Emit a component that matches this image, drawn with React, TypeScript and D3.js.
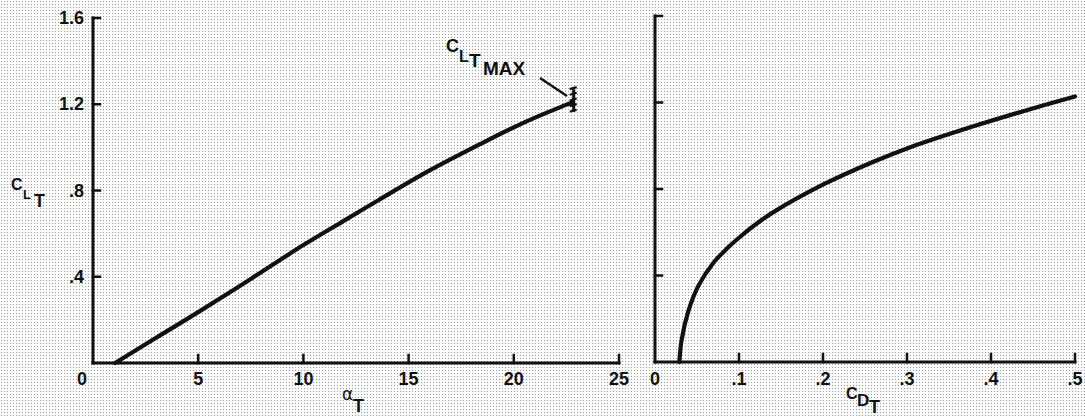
import React from "react";
import * as d3 from "d3";

// ---- data ----
const liftAlpha = [1.05, 3, 5, 7.5, 10, 12, 13.6, 16, 18.4, 20, 21.2, 22.5, 22.8];
const liftCL = [0, 0.117, 0.236, 0.39, 0.547, 0.664, 0.757, 0.893, 1.015, 1.093, 1.146, 1.198, 1.21];

const polarCD = [0.029, 0.0317, 0.0397, 0.0516, 0.0694, 0.085, 0.101, 0.12, 0.141, 0.201, 0.26, 0.3016, 0.379, 0.4385, 0.5];
const polarCL = [0, 0.102, 0.235, 0.352, 0.458, 0.522, 0.578, 0.637, 0.693, 0.822, 0.926, 0.99, 1.09, 1.16, 1.228];

const alphaTicks = [0, 5, 10, 15, 20, 25];
const alphaTickLabels = ["0", "5", "10", "15", "20", "25"];
const cdTicks = [0, 0.1, 0.2, 0.3, 0.4, 0.5];
const cdTickLabels = ["0", ".1", ".2", ".3", ".4", ".5"];
const clTicks = [0, 0.4, 0.8, 1.2, 1.6];
const clTickLabels = ["0", ".4", ".8", "1.2", "1.6"];

const clMax = { alpha: 22.8, low: 1.165, high: 1.27 };

const W = 1085;
const H = 416;
const INK = "#111";
const FONT = "'Liberation Sans', Arial, Helvetica, sans-serif";

export default function App() {
  const xL = d3.scaleLinear().domain([0, 25]).range([93, 619]);
  const yL = d3.scaleLinear().domain([0, 1.6]).range([363, 18]);
  const xR = d3.scaleLinear().domain([0, 0.5]).range([655, 1075]);
  const yR = d3.scaleLinear().domain([0, 1.6]).range([362, 16]);

  const liftPts: [number, number][] = liftAlpha.map((a, i) => [a, liftCL[i]]);
  const polarPts: [number, number][] = polarCD.map((c, i) => [c, polarCL[i]]);

  const lineL = d3
    .line<[number, number]>()
    .x((d) => xL(d[0]))
    .y((d) => yL(d[1]))
    .curve(d3.curveCatmullRom.alpha(0.5));
  const lineR = d3
    .line<[number, number]>()
    .x((d) => xR(d[0]))
    .y((d) => yR(d[1]))
    .curve(d3.curveCatmullRom.alpha(0.5));

  const tickLen = 7;
  const axisW = 3;

  const hatchX = xL(clMax.alpha);
  const hatchYs = d3.range(5).map((i) => yL(clMax.low) - (i * (yL(clMax.low) - yL(clMax.high))) / 4);

  return (
    <svg
      width={W}
      height={H}
      style={{ position: "absolute", left: 0, top: 0, display: "block" }}
      fontFamily={FONT}
      fontWeight="bold"
    >
      <defs>
        <pattern id="dots" width={3} height={3} patternUnits="userSpaceOnUse">
          <rect width={3} height={3} fill="#fdfdfd" />
          <rect x={1} y={1} width={1} height={1} fill="#9a9a9a" />
        </pattern>
      </defs>
      <rect width={W} height={H} fill="url(#dots)" />

      {/* ---- left panel ---- */}
      <g stroke={INK} strokeWidth={axisW} fill="none" strokeLinecap="square">
        <line x1={xL(0)} y1={yL(0)} x2={xL(0)} y2={yL(1.6)} />
        <line x1={xL(0)} y1={yL(0)} x2={xL(25)} y2={yL(0)} />
        {clTicks.slice(1).map((t) => (
          <line key={"lyt" + t} x1={xL(0)} x2={xL(0) + tickLen} y1={yL(t)} y2={yL(t)} strokeWidth={2.5} />
        ))}
        {alphaTicks.slice(1).map((t) => (
          <line key={"lxt" + t} x1={xL(t)} x2={xL(t)} y1={yL(0)} y2={yL(0) - tickLen - 1} strokeWidth={2.5} />
        ))}
      </g>
      <g fill={INK} fontSize={18}>
        {clTicks.slice(1).map((t, i) => (
          <text key={"lyl" + t} x={xL(0) - 9} y={yL(t) + 6} textAnchor="end">
            {clTickLabels[i + 1]}
          </text>
        ))}
        {alphaTicks.map((t, i) => (
          <text
            key={"lxl" + t}
            x={i === 0 ? xL(t) - 11 : xL(t)}
            y={385}
            textAnchor="middle"
          >
            {alphaTickLabels[i]}
          </text>
        ))}
      </g>
      <path d={lineL(liftPts) || ""} fill="none" stroke={INK} strokeWidth={4.2} strokeLinecap="round" />
      {/* CL max hatch */}
      <g stroke={INK} strokeWidth={2.2}>
        <line x1={hatchX + 1} x2={hatchX + 1} y1={yL(clMax.low)} y2={yL(clMax.high)} strokeWidth={3} />
        {hatchYs.map((y, i) => (
          <line key={"h" + i} x1={hatchX - 3} x2={hatchX + 4} y1={y} y2={y - 2} />
        ))}
      </g>
      {/* leader */}
      <line x1={540} y1={78} x2={567} y2={96} stroke={INK} strokeWidth={2.5} />
      <g fill={INK}>
        <text x={446} y={52} fontSize={18}>C</text>
        <text x={459} y={62} fontSize={16}>L</text>
        <text x={469} y={67} fontSize={19}>T</text>
        <text x={483} y={75} fontSize={19}>MAX</text>
      </g>
      {/* left axis titles */}
      <g fill={INK}>
        <text x={11} y={190} fontSize={16}>C</text>
        <text x={23} y={199} fontSize={13}>L</text>
        <text x={34} y={207} fontSize={18}>T</text>
        <text x={342} y={400} fontSize={17} fontWeight="normal" fontFamily="'DejaVu Sans', sans-serif">α</text>
        <text x={353} y={412} fontSize={18}>T</text>
      </g>

      {/* ---- right panel ---- */}
      <g stroke={INK} strokeWidth={axisW} fill="none" strokeLinecap="square">
        <line x1={xR(0)} y1={yR(0)} x2={xR(0)} y2={yR(1.6)} />
        <line x1={xR(0)} y1={yR(0)} x2={xR(0.5)} y2={yR(0)} />
        {clTicks.slice(1).map((t) => (
          <line key={"ryt" + t} x1={xR(0)} x2={xR(0) + tickLen} y1={yR(t)} y2={yR(t)} strokeWidth={2.5} />
        ))}
        {cdTicks.slice(1).map((t) => (
          <line key={"rxt" + t} x1={xR(t)} x2={xR(t)} y1={yR(0)} y2={yR(0) - tickLen - 1} strokeWidth={2.5} />
        ))}
      </g>
      <g fill={INK} fontSize={18}>
        {cdTicks.map((t, i) => (
          <text key={"rxl" + t} x={xR(t)} y={385} textAnchor="middle">
            {cdTickLabels[i]}
          </text>
        ))}
      </g>
      <path d={lineR(polarPts) || ""} fill="none" stroke={INK} strokeWidth={4.2} strokeLinecap="round" />
      <g fill={INK}>
        <text x={846} y={399} fontSize={16}>C</text>
        <text x={857} y={406} fontSize={17}>D</text>
        <text x={869} y={413} fontSize={18}>T</text>
      </g>
    </svg>
  );
}
